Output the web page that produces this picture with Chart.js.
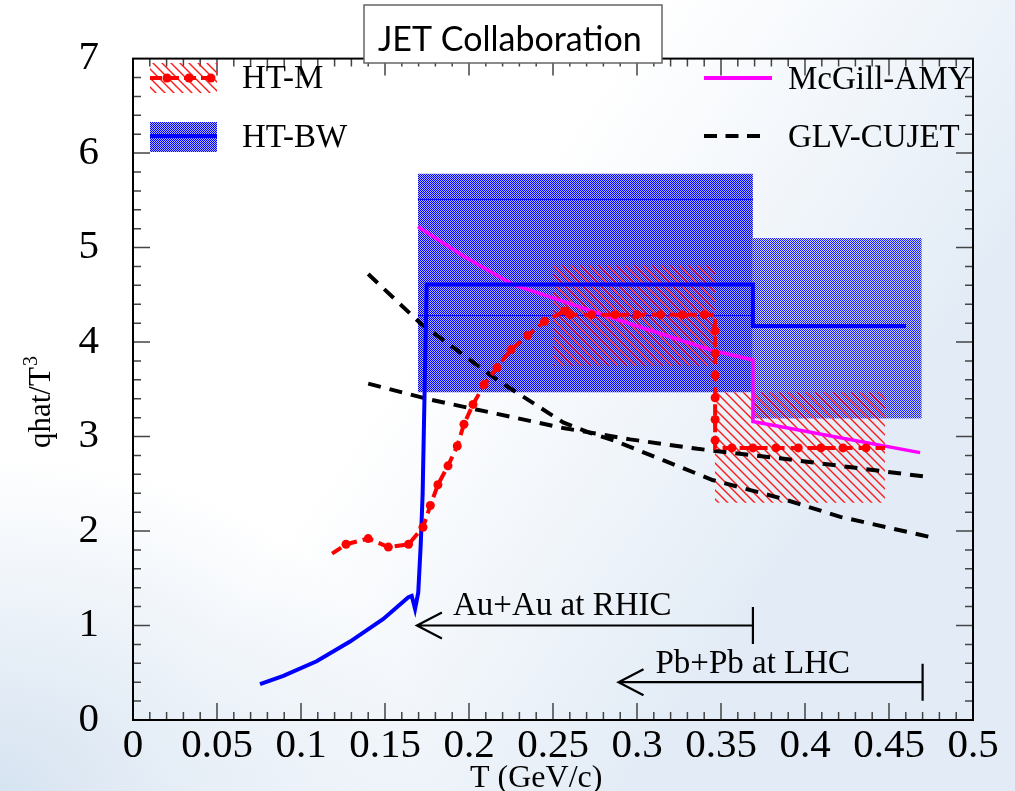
<!DOCTYPE html>
<html>
<head>
<meta charset="utf-8">
<script src="https://cdn.jsdelivr.net/npm/chart.js@4.4.0/dist/chart.umd.min.js"></script>
<style>
  html, body { margin: 0; padding: 0; }
  body {
    width: 1015px;
    height: 791px;
    overflow: hidden;
    background-color: #e3ecf6;
    background-image:
      radial-gradient(ellipse at 0% 100%, rgba(214, 227, 241, 1) 0%, rgba(214, 227, 241, 0) 30%),
      linear-gradient(125deg, #ffffff 0%, #ffffff 42%, rgba(255, 255, 255, 0.6) 56%, rgba(255, 255, 255, 0) 75%);
  }
  canvas { display: block; }
</style>
</head>
<body>
<canvas id="qhatChart" width="1015" height="791"></canvas>
<script>
// tick labels
const xTicks = ["0", "0.05", "0.1", "0.15", "0.2", "0.25", "0.3", "0.35", "0.4", "0.45", "0.5"];
const yTicks = ["0", "1", "2", "3", "4", "5", "6", "7"];

// HT-M (red dashed, dots)
const htmT = [0.1185, 0.1268, 0.140, 0.152, 0.164, 0.1726, 0.177, 0.1815, 0.1875, 0.193,
  0.197, 0.2024, 0.209, 0.2167, 0.225, 0.235, 0.245, 0.257,
  0.260, 0.273, 0.287, 0.300, 0.314, 0.327, 0.340, 0.3465,
  0.3465, 0.3465, 0.3465, 0.3465, 0.3465, 0.3465, 0.3465,
  0.3565, 0.369, 0.3827, 0.396, 0.4095, 0.4226, 0.4363, 0.4476];
const htmQ = [1.76, 1.86, 1.92, 1.83, 1.86, 2.04, 2.27, 2.49, 2.69, 2.90,
  3.13, 3.34, 3.55, 3.73, 3.92, 4.07, 4.22, 4.33,
  4.29, 4.29, 4.29, 4.29, 4.29, 4.29, 4.29, 4.29,
  4.12, 3.88, 3.65, 3.41, 3.18, 2.96, 2.88,
  2.88, 2.88, 2.88, 2.88, 2.88, 2.88, 2.88, 2.88];
const htmDot = [0, 1, 1, 1, 1, 1, 1, 1, 1, 1,
  1, 1, 1, 1, 1, 1, 1, 1,
  1, 1, 1, 1, 1, 1, 1, 0,
  1, 1, 1, 1, 1, 1, 0,
  1, 1, 1, 1, 1, 1, 1, 0];

// HT-M band
const htmBandT = [0.25, 0.3464, 0.3464, 0.4476];
const htmBandHi = [4.81, 4.81, 3.47, 3.47];
const htmBandLo = [3.75, 3.75, 2.30, 2.30];

// HT-BW (blue)
const bwT = [0.0756, 0.0895, 0.1093, 0.1292, 0.149, 0.1639, 0.1659, 0.1679, 0.1698, 0.1713, 0.1724, 0.1748, 0.369, 0.369, 0.4601];
const bwQ = [0.38, 0.467, 0.622, 0.83, 1.07, 1.30, 1.314, 1.175, 1.35, 1.87, 2.39, 4.61, 4.61, 4.17, 4.17];

// HT-BW bands
const bwBand1T = [0.1696, 0.369];
const bwBand1Hi = [5.78, 5.78];
const bwBand1Lo = [3.47, 3.47];
const bwBand2T = [0.369, 0.4695];
const bwBand2Hi = [5.10, 5.10];
const bwBand2Lo = [3.19, 3.19];
const bwInnerQ = [5.51, 4.28];

// McGill-AMY (magenta)
const amyT = [0.1696, 0.1966, 0.226, 0.256, 0.286, 0.3155, 0.345, 0.369, 0.369, 0.4685];
const amyQ = [5.22, 4.91, 4.61, 4.43, 4.25, 4.08, 3.91, 3.81, 3.16, 2.83];

// GLV-CUJET (black dashed, two curves)
const glvAT = [0.140, 0.171, 0.2167, 0.256, 0.272, 0.286, 0.3155, 0.345, 0.385, 0.421, 0.4786];
const glvAQ = [4.72, 4.20, 3.60, 3.15, 3.04, 2.96, 2.75, 2.54, 2.35, 2.15, 1.92];
const glvBT = [0.140, 0.177, 0.2167, 0.256, 0.296, 0.336, 0.385, 0.474];
const glvBQ = [3.56, 3.39, 3.24, 3.09, 2.97, 2.87, 2.77, 2.57];

// range arrows
const rangeLabels = ["Au+Au at RHIC", "Pb+Pb at LHC"];
const rangeFrom = [0.169, 0.289];
const rangeTo = [0.369, 0.470];
const rangeQ = [1.0, 0.40];
const rangeTextT = [0.1905, 0.311];
const rangeTextQ = [1.11, 0.50];

const serif = "'Liberation Serif', 'Times New Roman', serif";

const pts = (xs, ys) => xs.map((x, i) => ({ x, y: ys[i] }));

function checker(color, soft) {
  const c = document.createElement("canvas");
  c.width = 2; c.height = 2;
  const g = c.getContext("2d");
  g.fillStyle = color;
  g.fillRect(0, 0, 1, 1);
  g.fillRect(1, 1, 1, 1);
  g.fillStyle = soft;
  g.fillRect(1, 0, 1, 1);
  g.fillRect(0, 1, 1, 1);
  return g.createPattern(c, "repeat");
}

function hatch(color) {
  const s = 9;
  const c = document.createElement("canvas");
  c.width = s; c.height = s;
  const g = c.getContext("2d");
  g.strokeStyle = color;
  g.lineWidth = 1.4;
  g.beginPath();
  g.moveTo(-1, -1); g.lineTo(s + 1, s + 1);
  g.moveTo(-1, s - 1); g.lineTo(1, s + 1);
  g.moveTo(s - 1, -1); g.lineTo(s + 1, 1);
  g.stroke();
  return g.createPattern(c, "repeat");
}

const bluePat = checker("#0000ff", "rgba(0,0,255,0.3)");
const bluePat2 = checker("#1a1aff", "rgba(0,0,255,0.12)");
const redPat = hatch("#ff1a1a");
const none = "rgba(0,0,0,0)";

function edge(data, order) {
  return { data, borderColor: none, borderWidth: 0, pointRadius: 0, fill: false, order };
}

const decor = {
  id: "decor",
  afterDatasetsDraw(chart) {
    const { ctx, chartArea: a, scales: { x, y } } = chart;
    ctx.save();

    // inside ticks on all four sides
    ctx.strokeStyle = "#444";
    ctx.lineWidth = 1.5;
    ctx.beginPath();
    for (let i = 1; i < 50; i++) {
      const px = x.getPixelForValue(i * 0.01);
      const len = i % 5 === 0 ? 17 : 8;
      ctx.moveTo(px, a.bottom); ctx.lineTo(px, a.bottom - len);
      ctx.moveTo(px, a.top); ctx.lineTo(px, a.top + len);
    }
    for (let i = 1; i < 35; i++) {
      const py = y.getPixelForValue(i * 0.2);
      const len = i % 5 === 0 ? 17 : 8;
      ctx.moveTo(a.left, py); ctx.lineTo(a.left + len, py);
      ctx.moveTo(a.right, py); ctx.lineTo(a.right - len, py);
    }
    ctx.stroke();

    ctx.strokeStyle = "#000";
    ctx.lineWidth = 2;
    ctx.strokeRect(a.left, a.top, a.right - a.left, a.bottom - a.top);

    // range arrows
    ctx.strokeStyle = "#000";
    ctx.fillStyle = "#000";
    ctx.lineWidth = 2.2;
    ctx.font = "33px " + serif;
    ctx.textBaseline = "alphabetic";
    ctx.textAlign = "left";
    rangeLabels.forEach((label, i) => {
      const x0 = x.getPixelForValue(rangeFrom[i]);
      const x1 = x.getPixelForValue(rangeTo[i]);
      const py = y.getPixelForValue(rangeQ[i]);
      ctx.beginPath();
      ctx.moveTo(x0, py); ctx.lineTo(x1, py);
      ctx.moveTo(x0 + 25, py - 13); ctx.lineTo(x0, py); ctx.lineTo(x0 + 25, py + 13);
      ctx.moveTo(x1, py - 18.5); ctx.lineTo(x1, py + 18.5);
      ctx.stroke();
      ctx.fillText(label, x.getPixelForValue(rangeTextT[i]), y.getPixelForValue(rangeTextQ[i]));
    });

    // legend
    ctx.fillStyle = redPat;
    ctx.fillRect(150, 63, 67, 30);
    ctx.strokeStyle = "#ff0000";
    ctx.lineWidth = 4;
    ctx.setLineDash([12, 5]);
    ctx.beginPath(); ctx.moveTo(150, 78); ctx.lineTo(217, 78); ctx.stroke();
    ctx.setLineDash([]);
    ctx.fillStyle = "#ff0000";
    [167, 189, 211].forEach(px => {
      ctx.beginPath(); ctx.arc(px, 78, 4.5, 0, Math.PI * 2); ctx.fill();
    });

    ctx.fillStyle = bluePat;
    ctx.fillRect(150, 122, 67, 30);
    ctx.strokeStyle = "#0000ff";
    ctx.beginPath(); ctx.moveTo(150, 136); ctx.lineTo(217, 136); ctx.stroke();

    ctx.strokeStyle = "#ff00ff";
    ctx.beginPath(); ctx.moveTo(704, 78); ctx.lineTo(772, 78); ctx.stroke();

    ctx.strokeStyle = "#000";
    ctx.setLineDash([13, 8.5]);
    ctx.beginPath(); ctx.moveTo(704, 136); ctx.lineTo(760, 136); ctx.stroke();
    ctx.setLineDash([]);

    ctx.fillStyle = "#000";
    ctx.font = "33px " + serif;
    ctx.fillText("HT-M", 242, 88);
    ctx.fillText("HT-BW", 242, 147);
    ctx.fillText("McGill-AMY", 788, 89);
    ctx.fillText("GLV-CUJET", 788, 147);

    // title box
    ctx.fillStyle = "#fff";
    ctx.fillRect(364, 5, 298, 58);
    ctx.strokeStyle = "#666";
    ctx.lineWidth = 1.5;
    ctx.strokeRect(364, 5, 298, 58);
    ctx.fillStyle = "#000";
    ctx.font = "34px Lato, 'Open Sans', sans-serif";
    ctx.fillText("JET Collaboration", 378, 51);

    // axis titles
    ctx.font = "32px " + serif;
    ctx.fillText("T (GeV/c)", 470, 787);

    ctx.save();
    ctx.translate(50, 448);
    ctx.rotate(-Math.PI / 2);
    ctx.font = "31px " + serif;
    ctx.fillText("qhat/T", 0, 0);
    const w = ctx.measureText("qhat/T").width;
    ctx.font = "20px " + serif;
    ctx.fillText("3", w + 1, -13);
    ctx.restore();

    ctx.restore();
  }
};

new Chart(document.getElementById("qhatChart"), {
  type: "line",
  data: {
    datasets: [
      {
        data: pts(htmT, htmQ),
        borderColor: "#ff0000",
        borderWidth: 4,
        borderDash: [11, 6],
        pointRadius: c => (htmDot[c.dataIndex] ? 4.5 : 0),
        pointBackgroundColor: "#ff0000",
        pointBorderWidth: 0,
        fill: false,
        order: 0
      },
      { data: pts(bwT, bwQ), borderColor: "#0000ff", borderWidth: 4, pointRadius: 0, fill: false, order: 1 },
      { data: pts(amyT, amyQ), borderColor: "#ff00ff", borderWidth: 3.5, pointRadius: 0, fill: false, order: 2 },
      { data: pts(glvAT, glvAQ), borderColor: "#000", borderWidth: 4, borderDash: [13, 9], pointRadius: 0, fill: false, order: 3 },
      { data: pts(glvBT, glvBQ), borderColor: "#000", borderWidth: 4, borderDash: [13, 9], pointRadius: 0, fill: false, order: 3 },
      { data: pts(bwBand1T, [bwInnerQ[0], bwInnerQ[0]]), borderColor: "#0000ff", borderWidth: 1, pointRadius: 0, fill: false, order: 5 },
      { data: pts(bwBand1T, [bwInnerQ[1], bwInnerQ[1]]), borderColor: "#0000ff", borderWidth: 1, pointRadius: 0, fill: false, order: 5 },
      Object.assign(edge(pts(htmBandT, htmBandHi), 7), { fill: { target: "+1" }, backgroundColor: redPat }),
      edge(pts(htmBandT, htmBandLo), 7),
      Object.assign(edge(pts(bwBand1T, bwBand1Hi), 9), { fill: { target: "+1" }, backgroundColor: bluePat }),
      edge(pts(bwBand1T, bwBand1Lo), 9),
      Object.assign(edge(pts(bwBand2T, bwBand2Hi), 10), { fill: { target: "+1" }, backgroundColor: bluePat2 }),
      edge(pts(bwBand2T, bwBand2Lo), 10)
    ]
  },
  options: {
    responsive: false,
    animation: false,
    layout: { padding: { top: 45, right: 42, left: 0, bottom: 0 } },
    plugins: {
      legend: { display: false },
      tooltip: { enabled: false }
    },
    scales: {
      x: {
        type: "linear",
        min: 0,
        max: 0.5,
        grid: { display: false, drawTicks: false },
        border: { display: false },
        ticks: {
          stepSize: 0.05,
          autoSkip: false,
          maxRotation: 0,
          padding: 2,
          color: "#000",
          font: { family: serif, size: 41 },
          callback: (v, i) => xTicks[i]
        },
        afterFit: s => { s.height = 71; }
      },
      y: {
        min: 0,
        max: 7,
        grid: { display: false, drawTicks: false },
        border: { display: false },
        ticks: {
          stepSize: 1,
          padding: 34,
          color: "#000",
          font: { family: serif, size: 41 },
          callback: (v, i) => yTicks[i]
        },
        afterFit: s => { s.width = 133; }
      }
    }
  },
  plugins: [decor]
});
</script>
</body>
</html>
